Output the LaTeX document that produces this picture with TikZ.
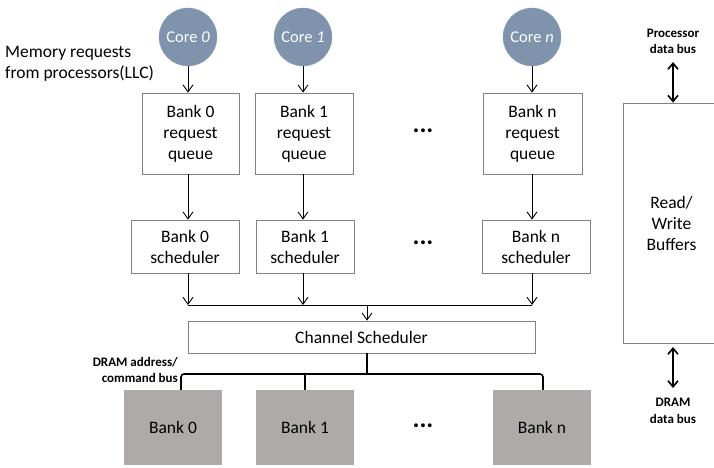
\documentclass[tikz,border=0pt]{standalone}
\usepackage{fontspec}
\setmainfont{Carlito}
\usetikzlibrary{arrows.meta}
\definecolor{corefill}{RGB}{127,147,173}
\definecolor{dramfill}{RGB}{174,170,170}
\definecolor{boxline}{RGB}{130,130,130}
\tikzset{
  core/.style={circle, fill=corefill, draw=corefill!85!white, minimum size=58pt, inner sep=0pt, text=white, font=\fontsize{16.5}{19}\selectfont},
  qbox/.style={draw=boxline, line width=0.8pt, fill=white, align=center, inner sep=0pt, font=\fontsize{17.5}{21}\selectfont},
  dram/.style={fill=dramfill, inner sep=0pt, minimum width=98pt, minimum height=75pt, font=\fontsize{17.5}{21}\selectfont},
  arr/.style={-{Straight Barb[length=7pt,width=10pt]}, line width=0.9pt},
  darr/.style={{Straight Barb[length=6pt,width=10pt]}-{Straight Barb[length=6pt,width=10pt]}, line width=1.6pt},
  bus/.style={line width=1.6pt, rounded corners=3pt},
  small/.style={font=\bfseries\fontsize{13}{16.5}\selectfont, align=center, inner sep=0pt},
  dots/.style={font=\bfseries\fontsize{26}{26}\selectfont, inner sep=0pt}
}
\begin{document}
\begin{tikzpicture}[x=1pt,y=-1pt]
\useasboundingbox (0,0) rectangle (714,467);
% cores
\node[core] (c0) at (188,37) {Core \textit{0}};
\node[core] (c1) at (303,37) {Core \textit{1}};
\node[core] (cn) at (532,37) {Core \textit{n}};
\node[anchor=west, align=left, inner sep=0pt, font=\fontsize{17.5}{21}\selectfont] (mem) at (5,64) {Memory requests\\from processors(LLC)};
% request queues
\node[qbox, minimum width=97pt, minimum height=81pt] (q0) at (190.5,133.5) {Bank 0\\request\\queue};
\node[qbox, minimum width=98pt, minimum height=81pt] (q1) at (304,133.5) {Bank 1\\request\\queue};
\node[qbox, minimum width=99pt, minimum height=81pt] (qn) at (532.5,133.5) {Bank n\\request\\queue};
% schedulers
\node[qbox, minimum width=108pt, minimum height=53pt] (s0) at (185,246.5) {Bank 0\\scheduler};
\node[qbox, minimum width=98pt, minimum height=53pt] (s1) at (305,246.5) {Bank 1\\scheduler};
\node[qbox, minimum width=108pt, minimum height=53pt] (sn) at (536,246.5) {Bank n\\scheduler};
% dots
\node[dots] (d1) at (423,131) {...};
\node[dots] (d2) at (423,243) {...};
\node[dots] (d3) at (423,426) {...};
% channel scheduler
\node[qbox, minimum width=347pt, minimum height=32pt] (ch) at (361.5,337) {Channel Scheduler};
% DRAM banks
\node[dram] (b0) at (173,427.5) {Bank 0};
\node[dram] (b1) at (305,427.5) {Bank 1};
\node[dram] (bn) at (542,427.5) {Bank n};
% read/write buffers
\node[qbox, minimum width=97pt, minimum height=240pt] (rw) at (671.5,223) {Read/\\Write\\Buffers};
% labels
\node[small] (pdb) at (673,41.5) {Processor\\data bus};
\node[small] (ddb) at (673,411) {DRAM\\data bus};
\node[small, anchor=east, align=right] (dab) at (178,370) {DRAM address/\\command bus};
% coordinates
\coordinate (j0) at (188,305);
\coordinate (j1) at (303,305);
\coordinate (jn) at (532,305);
\coordinate (jc) at (367,305);
\coordinate (k0) at (181,374);
\coordinate (kc) at (367,374);
\coordinate (kn) at (543,374);
\coordinate (pt) at (673,62);
\coordinate (dt) at (673,347);
\coordinate (db) at (673,388);
% arrows core -> queue
\draw[arr] (c0.south) -- (c0.south |- q0.north);
\draw[arr] (c1.south) -- (c1.south |- q1.north);
\draw[arr] (cn.south) -- (cn.south |- qn.north);
% queue -> scheduler
\draw[arr] (q0.south -| c0) -- (s0.north -| c0);
\draw[arr] (q1.south -| c1) -- (s1.north -| c1);
\draw[arr] (qn.south -| cn) -- (sn.north -| cn);
% scheduler -> bus
\draw[arr] (s0.south -| j0) -- (j0);
\draw[arr] (s1.south -| j1) -- (j1);
\draw[arr] (sn.south -| jn) -- (jn);
\draw[line width=0.9pt] (j0) -- (jn);
\draw[arr] (jc) -- (ch.north -| jc);
% address bus
\draw[line width=1.6pt] (ch.south -| kc) -- (kc);
\draw[bus] (b0.north -| k0) -- (k0) -- (kn) -- (bn.north -| kn);
\draw[line width=1.6pt] (b1.north) -- (b1.north |- kc);
% data buses
\draw[darr] (pt) -- (rw.north -| pt);
\draw[darr] (dt) -- (db);
\end{tikzpicture}
\end{document}
